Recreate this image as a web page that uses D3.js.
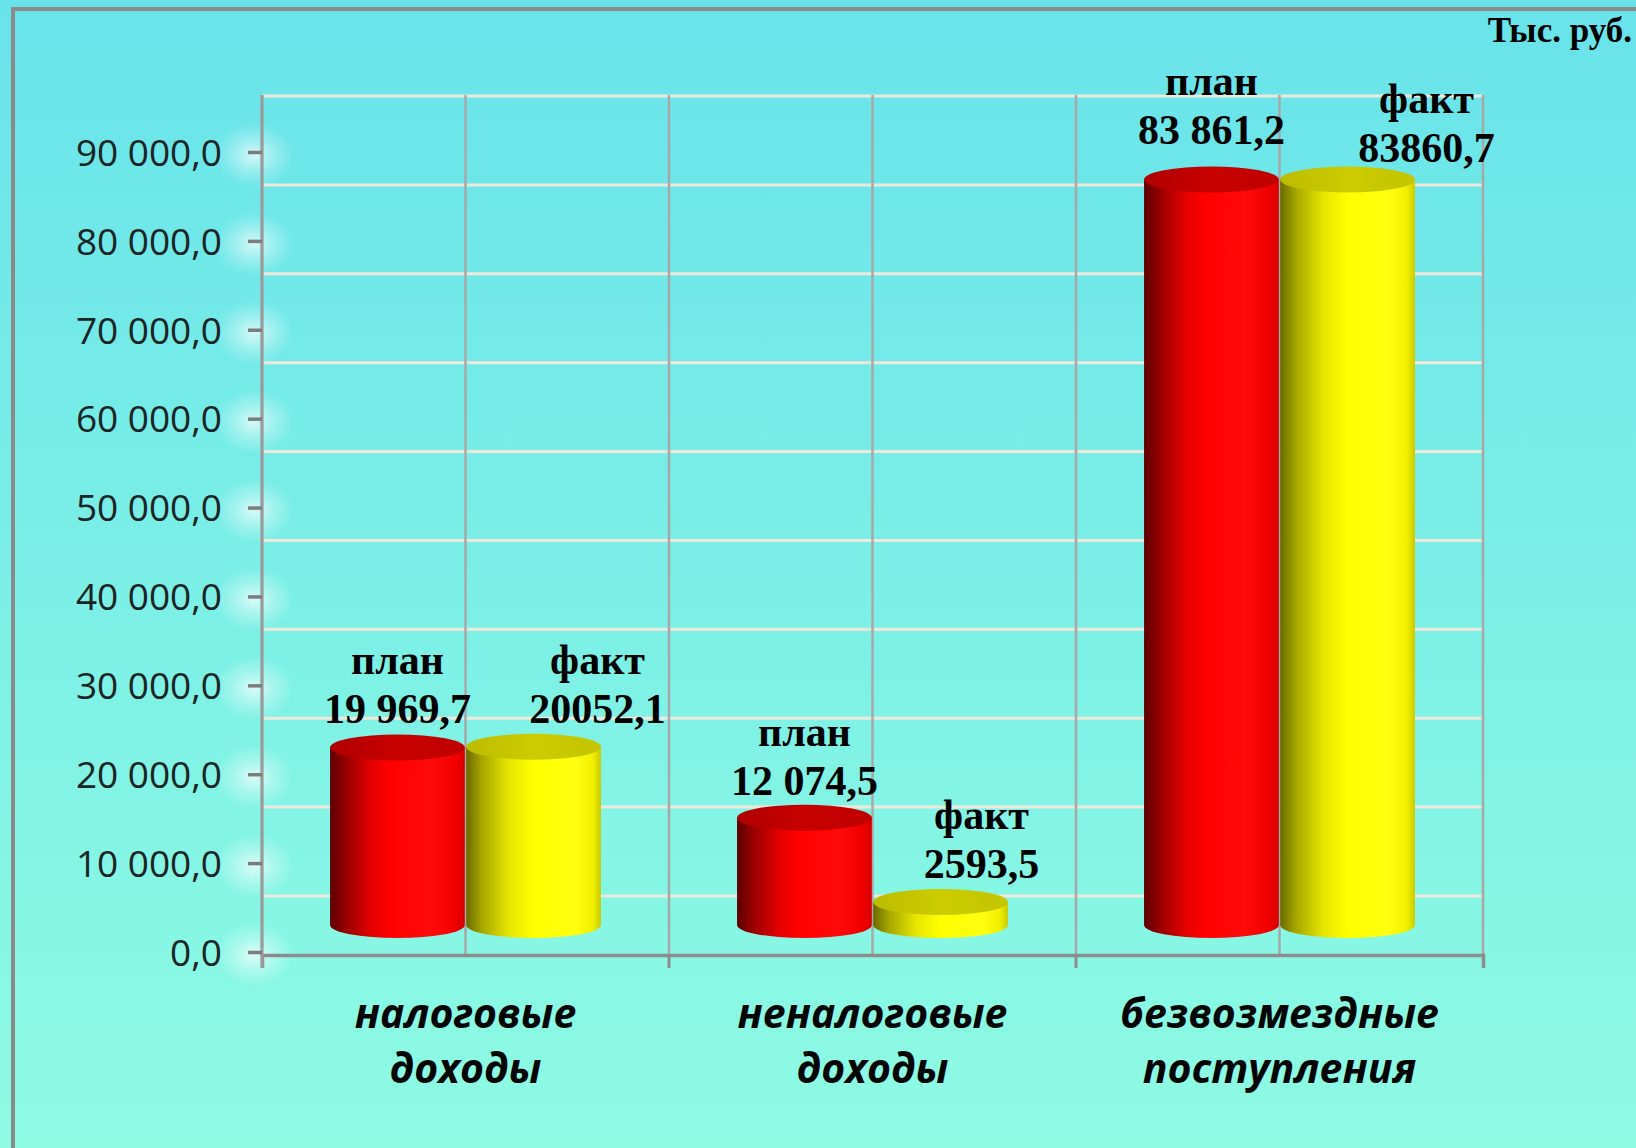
<!DOCTYPE html>
<html>
<head>
<meta charset="utf-8">
<script src="https://cdn.jsdelivr.net/npm/d3@7"></script>
<style>
  html, body { margin: 0; padding: 0; background: #6fe8e8; }
  svg { display: block; }
</style>
</head>
<body>
<svg id="chart" width="1636" height="1148"></svg>
<script>
// ---------------- data ----------------
const categories = ["налоговые доходы", "неналоговые доходы", "безвозмездные поступления"];
const categoryLines = [["налоговые", "доходы"], ["неналоговые", "доходы"], ["безвозмездные", "поступления"]];
const seriesNames = ["план", "факт"];
const planValues = [19969.7, 12074.5, 83861.2];
const factValues = [20052.1, 2593.5, 83860.7];
const planLabels = ["19 969,7", "12 074,5", "83 861,2"];
const factLabels = ["20052,1", "2593,5", "83860,7"];
const yTickValues = [0, 10000, 20000, 30000, 40000, 50000, 60000, 70000, 80000, 90000];
const yTickLabels = ["0,0", "10 000,0", "20 000,0", "30 000,0", "40 000,0", "50 000,0", "60 000,0", "70 000,0", "80 000,0", "90 000,0"];
const unitLabel = "Тыс. руб.";

// ---------------- layout (not data) ----------------
const W = 1636, H = 1148;
const plotLeft = 262, plotRight = 1483;
const yFrontZero = 952, yFrontMax = 152;
const depthMid = -27, depthBack = -56;
const ry = 13;
const labelDx = [[0, 64], [0, 41], [0, 79]];
const labelGap = [[11, 11], [10, 10.5], [23, 4.5]];

const svg = d3.select("#chart");
const defs = svg.append("defs");

// background gradient
const bg = defs.append("linearGradient").attr("id", "bg").attr("x1", 0).attr("y1", 0).attr("x2", 0).attr("y2", 1);
bg.append("stop").attr("offset", "0%").attr("stop-color", "#68e3ea");
bg.append("stop").attr("offset", "100%").attr("stop-color", "#8efbe3");
svg.append("rect").attr("width", W).attr("height", H).attr("fill", "url(#bg)");

// glow
const glow = defs.append("radialGradient").attr("id", "glow");
glow.append("stop").attr("offset", "0%").attr("stop-color", "#ffffff").attr("stop-opacity", 0.7);
glow.append("stop").attr("offset", "50%").attr("stop-color", "#ffffff").attr("stop-opacity", 0.3);
glow.append("stop").attr("offset", "100%").attr("stop-color", "#ffffff").attr("stop-opacity", 0);

// cylinder gradients
function sideGrad(id, stops) {
  const g = defs.append("linearGradient").attr("id", id).attr("x1", 0).attr("y1", 0).attr("x2", 1).attr("y2", 0);
  stops.forEach(s => g.append("stop").attr("offset", s[0]).attr("stop-color", s[1]));
}
sideGrad("redSide", [["0%", "#5c0000"], ["12%", "#990000"], ["32%", "#e80000"], ["45%", "#ff0000"], ["75%", "#ff0a0a"], ["92%", "#f20000"], ["100%", "#d80000"]]);
sideGrad("yelSide", [["0%", "#6a6a00"], ["12%", "#a8a800"], ["32%", "#e6e600"], ["50%", "#ffff00"], ["80%", "#ffff10"], ["94%", "#f0f000"], ["100%", "#caca00"]]);
sideGrad("redTop", [["0%", "#b00000"], ["50%", "#c80000"], ["100%", "#c00000"]]);
sideGrad("yelTop", [["0%", "#bcbc00"], ["50%", "#cccc00"], ["100%", "#c4c400"]]);
const sideFill = ["url(#redSide)", "url(#yelSide)"];
const topFill = ["url(#redTop)", "url(#yelTop)"];

// frame
svg.append("rect").attr("x", 13).attr("y", 9).attr("width", W).attr("height", H)
  .attr("fill", "none").attr("stroke", "#8a8a8a").attr("stroke-width", 4);

// scales
const yFront = d3.scaleLinear().domain([0, 90000]).range([yFrontZero, yFrontMax]);
const yBack = v => yFront(v) + depthBack;
const yMid = v => yFront(v) + depthMid;
const x0 = d3.scaleBand().domain(categories).range([plotLeft, plotRight]).paddingInner(0).paddingOuter(0);
const x1 = d3.scaleBand().domain(seriesNames).range([0, x0.bandwidth()]).paddingInner(0.01).paddingOuter(0.5);

// glows behind axis labels
svg.append("g").selectAll("ellipse").data(yTickValues).join("ellipse")
  .attr("cx", 254).attr("cy", d => yFront(d) + 3).attr("rx", 40).attr("ry", 32)
  .attr("fill", "url(#glow)");

// back wall horizontal gridlines
svg.append("g").selectAll("line").data(yTickValues).join("line")
  .attr("x1", plotLeft).attr("x2", plotRight)
  .attr("y1", d => yBack(d)).attr("y2", d => yBack(d))
  .attr("stroke", "#efe9dc").attr("stroke-width", 3);

// vertical gridlines (category boundaries and centers)
const vLines = [];
categories.forEach(c => { vLines.push(x0(c)); vLines.push(x0(c) + x0.bandwidth() / 2); });
vLines.push(plotRight);
svg.append("g").selectAll("line").data(vLines).join("line")
  .attr("x1", d => d).attr("x2", d => d)
  .attr("y1", yBack(90000) - 1).attr("y2", yFront(0) + 3)
  .attr("stroke", "#a8a8a8").attr("stroke-width", 2.5);

// category axis (front floor edge)
const xAxisG = svg.append("g").attr("transform", `translate(0,${yFront(0) + 3})`)
  .call(d3.axisBottom(x0).tickValues([]).tickSizeOuter(13));
xAxisG.select(".domain").attr("stroke", "#8c8c8c").attr("stroke-width", 3.5);
// category boundary ticks
svg.append("g").selectAll("line").data(categories.slice(1)).join("line")
  .attr("x1", d => x0(d)).attr("x2", d => x0(d))
  .attr("y1", yFront(0) + 3).attr("y2", yFront(0) + 16)
  .attr("stroke", "#8c8c8c").attr("stroke-width", 3);

// value axis
const yAxisG = svg.append("g").attr("transform", `translate(${plotLeft},0)`)
  .call(d3.axisLeft(yFront).tickValues(yTickValues).tickFormat((d, i) => yTickLabels[i]).tickSize(14).tickPadding(26).tickSizeOuter(0));
yAxisG.select(".domain").attr("stroke", "#9a9a9a").attr("stroke-width", 3)
  .attr("d", `M0,${yBack(90000) - 1}V${yFront(0) + 16}`);
yAxisG.selectAll(".tick line").attr("stroke", "#7c7c7c").attr("stroke-width", 3.5);
yAxisG.selectAll(".tick text")
  .attr("font-family", "'Open Sans', sans-serif").attr("font-size", 37)
  .attr("fill", "#1c2424").attr("dy", "0.36em");

// cylinders
const seriesValues = [planValues, factValues];
const seriesLabels = [planLabels, factLabels];
const bars = [];
categories.forEach((c, ci) => {
  seriesNames.forEach((s, si) => {
    bars.push({ c, ci, s, si, v: seriesValues[si][ci], label: seriesLabels[si][ci] });
  });
});
const gBars = svg.append("g");
bars.forEach(b => {
  const x = x0(b.c) + x1(b.s), w = x1.bandwidth(), rx = w / 2;
  const yT = yMid(b.v), yB = yMid(0);
  const g = gBars.append("g");
  g.append("path")
    .attr("d", `M${x},${yT}L${x},${yB}A${rx},${ry} 0 0 0 ${x + w},${yB}L${x + w},${yT}Z`)
    .attr("fill", sideFill[b.si]);
  g.append("ellipse").attr("cx", x + rx).attr("cy", yT).attr("rx", rx).attr("ry", ry)
    .attr("fill", topFill[b.si]);
});

// data labels
const gLab = svg.append("g").attr("font-family", "'Liberation Serif', 'Times New Roman', serif")
  .attr("font-weight", "bold").attr("font-size", 42).attr("fill", "#000").attr("text-anchor", "middle");
bars.forEach(b => {
  const cx = x0(b.c) + x1(b.s) + x1.bandwidth() / 2 + labelDx[b.ci][b.si];
  const base = yMid(b.v) - ry - labelGap[b.ci][b.si];
  gLab.append("text").attr("x", cx).attr("y", base - 49).text(b.s);
  gLab.append("text").attr("x", cx).attr("y", base).text(b.label);
});

// category labels
const gCat = svg.append("g").attr("font-family", "'Open Sans', sans-serif")
  .attr("font-weight", "bold").attr("font-style", "italic").attr("font-size", 41)
  .attr("fill", "#050505").attr("text-anchor", "middle");
categories.forEach((c, ci) => {
  categoryLines[ci].forEach((line, li) => {
    gCat.append("text").attr("x", x0(c) + x0.bandwidth() / 2).attr("y", 1028 + li * 55).text(line);
  });
});

// unit label
svg.append("text").attr("x", 1632).attr("y", 42).attr("text-anchor", "end")
  .attr("font-family", "'Liberation Serif', 'Times New Roman', serif").attr("font-weight", "bold")
  .attr("font-size", 35).attr("fill", "#000").text(unitLabel);
</script>
</body>
</html>
